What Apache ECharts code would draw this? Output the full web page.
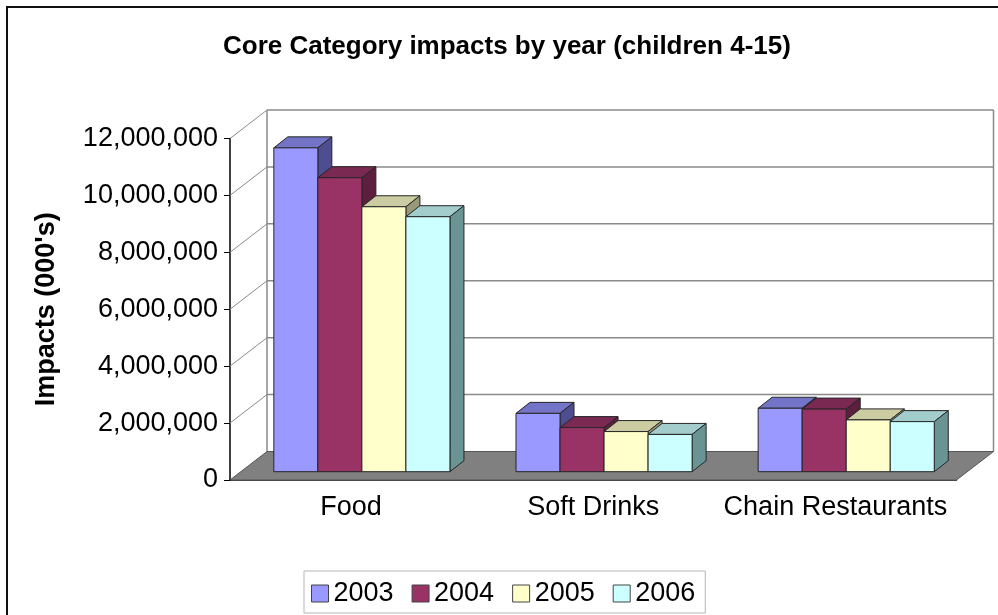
<!DOCTYPE html>
<html>
<head>
<meta charset="utf-8">
<script src="https://cdn.jsdelivr.net/npm/echarts@6/dist/echarts.min.js"></script>
<style>
html,body{margin:0;padding:0;background:#fff;}
#chart{width:998px;height:615px;}
</style>
</head>
<body>
<div id="chart"></div>
<script>
// ---- data ----
var categories = ['Food', 'Soft Drinks', 'Chain Restaurants'];
var years = ['2003', '2004', '2005', '2006'];
var values2003 = [11380000, 2050000, 2230000];
var values2004 = [10330000, 1550000, 2200000];
var values2005 = [9310000, 1410000, 1820000];
var values2006 = [8960000, 1310000, 1760000];
var yTicks = [0, 2000000, 4000000, 6000000, 8000000, 10000000, 12000000];

// ---- styles ----
var seriesValues = [values2003, values2004, values2005, values2006];
var frontColors = ['#9999ff', '#993366', '#ffffcc', '#ccffff'];
var topColors = ['#7373c8', '#7a2952', '#cccca3', '#a3cccc'];
var sideColors = ['#4d4d90', '#5c1f3d', '#99997a', '#6a9494'];
var DEPTH = [37, -28.5];     // full depth of the 3D box
var FRONT = [10.8, -8.3];    // bar front face offset
var EXT = [14, -11];         // bar depth extrusion
var FONT = '"Liberation Sans", Arial, sans-serif';

function fmt(v) { return String(v).replace(/\B(?=(\d{3})+(?!\d))/g, ','); }

function wallRender(params, api) {
  var cs = params.coordSys;
  var v = api.value(1);
  var y = api.coord([0, v])[1];
  var L = cs.x, R = cs.x + cs.width;
  var dx = DEPTH[0], dy = DEPTH[1];
  var gridStyle = { stroke: '#8a8a8a', lineWidth: 1.5, fill: null };
  var children = [];
  if (params.dataIndex === 0) {
    var yTop = api.coord([0, yTicks[yTicks.length - 1]])[1];
    children.push({ type: 'line', shape: { x1: L + dx, y1: y + dy, x2: L + dx, y2: yTop + dy }, style: gridStyle });
    children.push({ type: 'line', shape: { x1: R + dx, y1: y + dy, x2: R + dx, y2: yTop + dy }, style: gridStyle });
    children.push({ type: 'polygon', shape: { points: [[L, y], [R, y], [R + dx, y + dy], [L + dx, y + dy]] },
      style: { fill: '#808080', stroke: '#555', lineWidth: 1 } });
  } else {
    children.push({ type: 'line', shape: { x1: L, y1: y, x2: L + dx, y2: y + dy }, style: { stroke: '#8a8a8a', lineWidth: 1, fill: null } });
    children.push({ type: 'line', shape: { x1: L + dx, y1: y + dy, x2: R + dx, y2: y + dy }, style: gridStyle });
  }
  return { type: 'group', children: children };
}

function barRender(si) {
  return function (params, api) {
    var cat = api.value(0), val = api.value(1);
    var base = api.coord([cat, 0]);
    var top = api.coord([cat, val]);
    var band = api.size([1, 0])[0];
    var w = band / 5.5;
    var x0 = base[0] + (si - 2) * w + FRONT[0];
    var x1 = x0 + w;
    var yb = base[1] + FRONT[1];
    var yt = top[1] + FRONT[1];
    var dx = EXT[0], dy = EXT[1];
    var st = { stroke: '#262626', lineWidth: 1 };
    return { type: 'group', children: [
      { type: 'polygon', shape: { points: [[x0, yt], [x1, yt], [x1 + dx, yt + dy], [x0 + dx, yt + dy]] },
        style: { fill: topColors[si], stroke: st.stroke, lineWidth: st.lineWidth } },
      { type: 'polygon', shape: { points: [[x1, yt], [x1 + dx, yt + dy], [x1 + dx, yb + dy], [x1, yb]] },
        style: { fill: sideColors[si], stroke: st.stroke, lineWidth: st.lineWidth } },
      { type: 'rect', shape: { x: x0, y: yt, width: w, height: yb - yt },
        style: { fill: frontColors[si], stroke: st.stroke, lineWidth: st.lineWidth } }
    ] };
  };
}

var series = [{
  type: 'custom', name: 'walls', renderItem: wallRender, z: 1, silent: true,
  encode: { x: 0, y: 1 },
  data: yTicks.map(function (v) { return [0, v]; })
}];
years.forEach(function (yr, si) {
  series.push({
    type: 'custom', name: yr, z: 3 + si,
    renderItem: barRender(si),
    itemStyle: { color: frontColors[si] },
    encode: { x: 0, y: 1 },
    data: seriesValues[si].map(function (v, i) { return [i, v]; })
  });
});

var chart = echarts.init(document.getElementById('chart'), null, { renderer: 'canvas' });
chart.setOption({
  animation: false,
  backgroundColor: '#ffffff',
  title: {
    text: 'Core Category impacts by year (children 4-15)',
    left: 223, top: 34, padding: 0,
    textStyle: { fontFamily: FONT, fontSize: 26, fontWeight: 'bold', color: '#000' }
  },
  legend: {
    data: years, left: 304, top: 571, icon: 'rect',
    itemWidth: 17, itemHeight: 17, itemGap: 18,
    padding: [9, 10, 6, 7],
    borderColor: '#b5b5b5', borderWidth: 1,
    itemStyle: { borderColor: '#444', borderWidth: 1 },
    textStyle: { fontFamily: FONT, fontSize: 27, color: '#000' }
  },
  grid: { left: 230, right: 41.5, top: 138.5, bottom: 135, containLabel: false },
  xAxis: {
    type: 'category', data: categories, boundaryGap: true,
    axisLine: { lineStyle: { color: '#000', width: 1.5 } },
    axisTick: { length: 6, lineStyle: { color: '#000' } },
    axisLabel: { fontFamily: FONT, fontSize: 27, color: '#000', margin: 14, interval: 0, hideOverlap: false },
    splitLine: { show: false }
  },
  yAxis: {
    type: 'value', min: yTicks[0], max: yTicks[yTicks.length - 1], interval: yTicks[1] - yTicks[0],
    name: "Impacts (000's)", nameLocation: 'middle', nameRotate: 90, nameGap: 170,
    nameTextStyle: { fontFamily: FONT, fontSize: 27, fontWeight: 'bold', color: '#000' },
    axisLine: { show: true, lineStyle: { color: '#000', width: 1.5 } },
    axisTick: { show: true, length: 6, lineStyle: { color: '#000' } },
    axisLabel: { fontFamily: FONT, fontSize: 27, color: '#000', margin: 12, formatter: fmt },
    splitLine: { show: false }
  },
  graphic: [{
    type: 'rect', silent: true, z: -10,
    shape: { x: 7, y: 7, width: 1100, height: 800 },
    style: { fill: null, stroke: '#111', lineWidth: 2 }
  }],
  series: series
});
</script>
</body>
</html>
